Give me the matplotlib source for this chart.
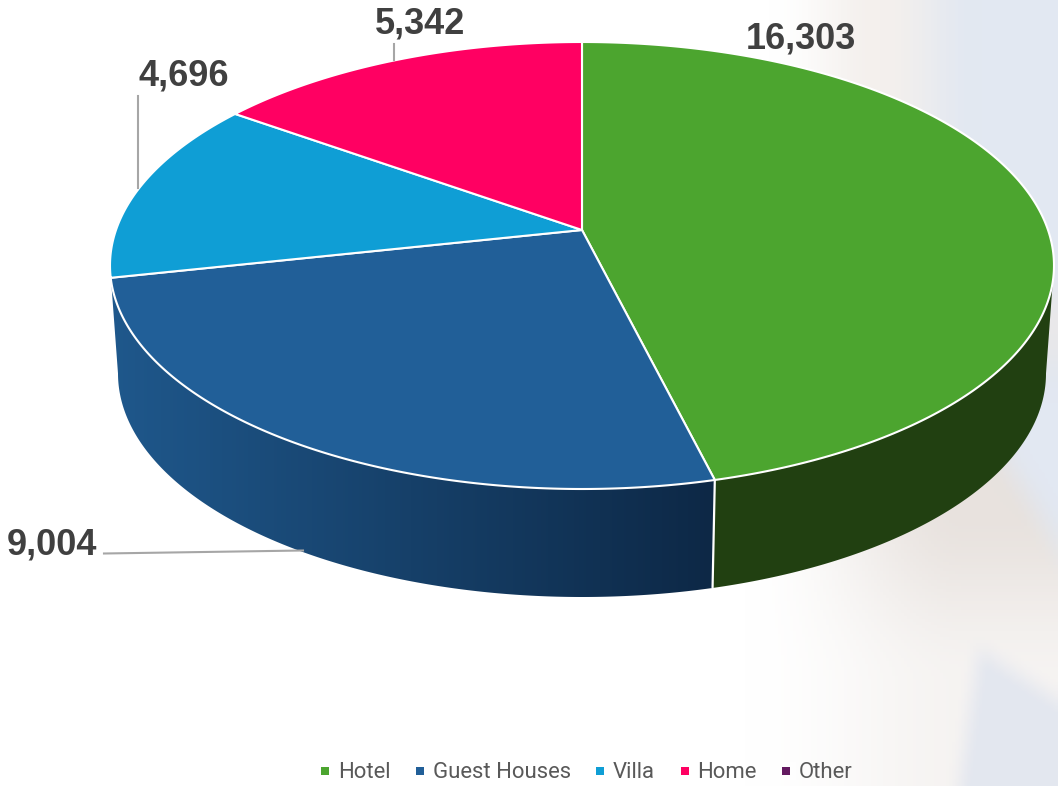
import numpy as np
import matplotlib
matplotlib.use("Agg")
import matplotlib.pyplot as plt
from matplotlib.patches import Polygon, Rectangle

categories = ["Hotel", "Guest Houses", "Villa", "Home", "Other"]
values = [16303, 9004, 4696, 5342, 0]
colors = ["#4CA52F", "#215F98", "#0F9ED5", "#FF0062", "#631A60"]
value_labels = ["16,303", "9,004", "4,696", "5,342"]

W, H = 1058, 786
fig = plt.figure(figsize=(W / 100, H / 100), dpi=100)
ax = fig.add_axes([0, 0, 1, 1])
ax.set_xlim(0, W)
ax.set_ylim(H, 0)
ax.axis("off")

# soft photographic background fading in from the right
yy, xx = np.mgrid[0:H:3, 0:W:3].astype(float)
def smooth(t):
    t = np.clip(t, 0, 1)
    return t * t * (3 - 2 * t)
blue = np.array([226, 232, 242.0])
beige = np.array([232, 226, 222.0])
bg = np.full(xx.shape + (3,), 255.0)
def layer(bg, tone, alpha):
    alpha = np.clip(alpha, 0, 1)[..., None]
    return bg * (1 - alpha) + tone * alpha
fade_up = 1 - smooth((yy - 250) / 150)
bg = layer(bg, np.array([244, 240, 237.0]), smooth((xx - 770) / 110) * fade_up)
bg = layer(bg, blue, smooth((xx - 880) / 100) * fade_up)
lower = smooth((xx - 745) / 220) * smooth((yy - 250) / 150) * (1 - 0.6 * smooth((yy - 500) / 180))
bg = layer(bg, beige, lower)
bg = layer(bg, blue, smooth((xx - 990 - (yy - 480) * 0.62) / 55) * smooth((yy - 300) / 100))
bg = layer(bg, np.array([224, 229, 239.0]),
           0.85 * smooth((xx - 945 + (yy - 780) * 0.14) / 30) * smooth((yy - 625 - (xx - 973) * 0.64) / 40))
ax.imshow(bg.astype(np.uint8), extent=(0, W, H, 0), interpolation="bilinear", aspect="auto", zorder=0)

# projected disc geometry
CX, APEX_Y, RX, UP, DOWN, DEPTH, BASE_SCALE = 582, 230, 472, 188, 259, 108, 464 / 472
c = (DOWN - UP) / (DOWN + UP)
A = UP * (1 + c)
k = np.sqrt(1 - c * c)
SIL = np.degrees(np.arcsin(c))  # angle of the widest screen points

def top(deg):
    t = np.radians(np.asarray(deg, float))
    u, v = np.cos(t), np.sin(t)
    d = 1 + c * v
    return CX + RX * k * u / d, APEX_Y - A * v / d

def bottom(deg):
    x, y = top(deg)
    return CX + BASE_SCALE * (x - CX), y + DEPTH

total = sum(values)
edges = 90 - 360 * np.cumsum([0] + values) / total

def side_poly(a0, a1):
    t = np.linspace(a0, a1, 200)
    xt, yt = top(t)
    xb, yb = bottom(t)
    return np.column_stack([np.r_[xt, xb[::-1]], np.r_[yt, yb[::-1]]])

# hotel side
ax.add_patch(Polygon(side_poly(-SIL, edges[1]), closed=True, fc="#214011", ec="none", zorder=1))

# guest-houses side with gradient
grad = np.linspace(0, 1, 256)[None, :, None]
left_c = np.array([31, 88, 140.0])
right_c = np.array([13, 40, 70.0])
gimg = (left_c * (1 - grad) + right_c * grad).astype(np.uint8)
guest_side = Polygon(side_poly(edges[1], -180 + SIL), closed=True, fc="none", ec="none", zorder=1)
ax.add_patch(guest_side)
im = ax.imshow(gimg, extent=(110, 715, 600, 260), aspect="auto", zorder=1, interpolation="bilinear")
im.set_clip_path(guest_side)

# divider between the two sides
xd0, yd0 = top(edges[1])
xd1, yd1 = bottom(edges[1])
ax.plot([xd0, xd1], [yd0, yd1], color="white", lw=1.6, zorder=2, solid_capstyle="butt")

# top wedges
for i in range(len(values)):
    if values[i] == 0:
        continue
    t = np.linspace(edges[i], edges[i + 1], 240)
    x, y = top(t)
    pts = np.column_stack([np.r_[CX, x], np.r_[APEX_Y, y]])
    ax.add_patch(Polygon(pts, closed=True, fc=colors[i], ec="white", lw=1.5, zorder=3, joinstyle="round"))

# leader lines
line_kw = dict(color="#A6A6A6", lw=1.5, zorder=4)
ax.plot([394, 394], [44, 60], **line_kw)
ax.plot([138, 138], [96, 188], **line_kw)
ax.plot([104, 303], [553.5, 550.5], **line_kw)

# value labels
pos = [(801, 39), (52, 545), (184, 76), (420, 24)]
for s, (x, y) in zip(value_labels, pos):
    ax.text(x, y, s, ha="center", va="center", family="Liberation Sans", weight="bold",
            fontsize=26, color="#404040", zorder=5)

# legend
ax.add_patch(Rectangle((778, 762), 18, 18, fc="white", ec="none", alpha=0.7, zorder=4))
marker_x = [325, 420, 600, 685, 786]
text_x = [338, 433, 613, 697, 799]
for name, col, mx, tx in zip(categories, colors, marker_x, text_x):
    ax.add_patch(Rectangle((mx - 4, 767), 8, 8, fc=col, ec="none", zorder=5))
    ax.text(tx, 772.5, name, ha="left", va="center", family="Roboto", fontsize=15.9,
            color="#595959", zorder=5)

fig.savefig("out.png", dpi=100)
